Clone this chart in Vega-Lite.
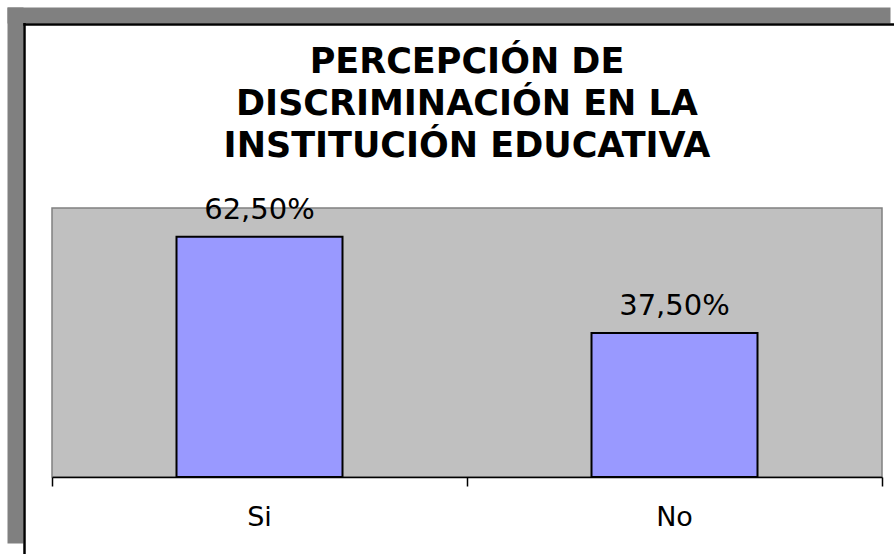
{
  "$schema": "https://vega.github.io/schema/vega-lite/v6.json",
  "width": 830,
  "height": 269,
  "autosize": "none",
  "padding": {"left": 52, "top": 208, "right": 12, "bottom": 77},
  "background": "white",
  "config": {
    "view": {"fill": "#C0C0C0", "stroke": "#808080", "strokeWidth": 1.5},
    "font": "DejaVu Sans"
  },
  "title": {
    "text": ["PERCEPCIÓN DE", "DISCRIMINACIÓN EN LA", "INSTITUCIÓN EDUCATIVA"],
    "font": "DejaVu Sans",
    "fontSize": 35,
    "fontWeight": "bold",
    "color": "black",
    "lineHeight": 42,
    "anchor": "middle",
    "frame": "group",
    "baseline": "alphabetic",
    "offset": -177
  },
  "data": {
    "values": [
      {"cat": "Si", "pct": 62.5, "label": "62,50%"},
      {"cat": "No", "pct": 37.5, "label": "37,50%"}
    ]
  },
  "layer": [
    {
      "layer": [
        {
          "mark": {"type": "bar", "fill": "#9999FF", "stroke": "black", "strokeWidth": 2, "width": {"band": 0.4}},
          "encoding": {
            "x": {
              "field": "cat", "type": "nominal", "sort": null,
              "scale": {"paddingInner": 0, "paddingOuter": 0},
              "axis": {
                "title": null, "labelAngle": 0, "domainColor": "black", "domainWidth": 1.5,
                "ticks": true, "tickColor": "black", "tickWidth": 1.5, "tickSize": 9,
                "bandPosition": 1, "tickExtra": true,
                "labelFont": "DejaVu Sans", "labelFontSize": 27, "labelColor": "black",
                "labelBaseline": "alphabetic", "labelPadding": 39
              }
            },
            "y": {
              "field": "pct", "type": "quantitative",
              "scale": {"domain": [0, 70], "nice": false},
              "axis": null
            }
          }
        },
        {
          "mark": {"type": "text", "font": "DejaVu Sans", "fontSize": 29, "color": "black", "baseline": "alphabetic", "dy": -18},
          "encoding": {
            "x": {"field": "cat", "type": "nominal", "sort": null},
            "y": {"field": "pct", "type": "quantitative"},
            "text": {"field": "label"}
          }
        }
      ]
    },
    {
      "mark": {"type": "point", "opacity": 0},
      "encoding": {
        "x": {
          "datum": 0.5, "type": "quantitative",
          "scale": {"domain": [0, 1], "range": [-45, 838]},
          "axis": {"orient": "top", "offset": 193, "domain": true, "domainColor": "#808080", "domainWidth": 16, "domainCap": "butt", "ticks": false, "labels": false, "grid": false, "title": null}
        },
        "y": {
          "datum": 0.5, "type": "quantitative",
          "scale": {"domain": [0, 1], "range": [335, -201]},
          "axis": {"orient": "left", "offset": 37, "domain": true, "domainColor": "#808080", "domainWidth": 16, "domainCap": "butt", "ticks": false, "labels": false, "grid": false, "title": null}
        }
      }
    },
    {
      "mark": {"type": "point", "opacity": 0},
      "encoding": {
        "x": {
          "datum": 0.5, "type": "quantitative",
          "scale": {"domain": [0, 1], "range": [-29.5, 860]},
          "axis": {"orient": "top", "offset": 184, "domain": true, "domainColor": "black", "domainWidth": 2.5, "domainCap": "butt", "ticks": false, "labels": false, "grid": false, "title": null}
        },
        "y": {
          "datum": 0.5, "type": "quantitative",
          "scale": {"domain": [0, 1], "range": [360, -185.5]},
          "axis": {"orient": "left", "offset": 28, "domain": true, "domainColor": "black", "domainWidth": 2.5, "domainCap": "butt", "ticks": false, "labels": false, "grid": false, "title": null}
        }
      }
    }
  ],
  "resolve": {"scale": {"x": "independent", "y": "independent"}}
}
